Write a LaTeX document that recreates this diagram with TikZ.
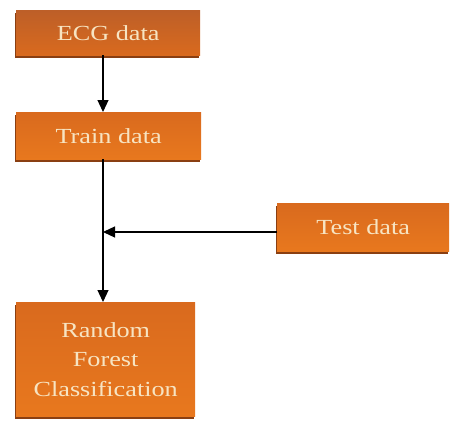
\documentclass[tikz,border=0pt]{standalone}
\usepackage{fontspec}
\newfontfamily\boxfont[FakeStretch=1.22]{Liberation Serif}
\usetikzlibrary{arrows.meta, positioning, shadows}
\definecolor{boxorange}{HTML}{E8781E}
\definecolor{boxtop}{HTML}{D96A1E}
\definecolor{boxdark}{HTML}{BD5F28}
\definecolor{boxshade}{HTML}{8A3F12}
\definecolor{boxtext}{HTML}{F7E4C2}

\begin{document}
\begin{tikzpicture}[x=1pt, y=-1pt,
  box/.style={anchor=north west, inner sep=0pt, align=center, text=boxtext,
              font=\boxfont\fontsize{21.5}{29.5}\selectfont,
              top color=boxtop, bottom color=boxorange,
              drop shadow={shadow xshift=-1.5pt, shadow yshift=-3pt,
                           fill=boxshade, opacity=1}},
  arr/.style={-{Triangle[length=12pt, width=11pt]}, line width=1.2pt}
]
  \useasboundingbox (0,0) rectangle (453,423);

  \node[box, top color=boxdark, bottom color=boxtop,
        minimum width=184pt, minimum height=45pt] (ecg) at (16,10) {ECG data};
  \node[box, minimum width=185pt, minimum height=47pt] (train) at (16,112) {Train data};
  \node[box, minimum width=172pt, minimum height=48pt] (test) at (277,203) {Test data};
  \node[box, minimum width=179pt, minimum height=114pt] (rf) at (16,302)
    {Random\\Forest\\Classification};

  \coordinate (join) at (103,232);

  \draw[arr] (ecg.south -| join) -- (train.north -| join);
  \draw[line width=1.2pt] (train.south -| join) -- (join);
  \draw[arr] (join) -- (rf.north -| join);
  \draw[arr] (test.west |- join) -- (join);
\end{tikzpicture}
\end{document}
